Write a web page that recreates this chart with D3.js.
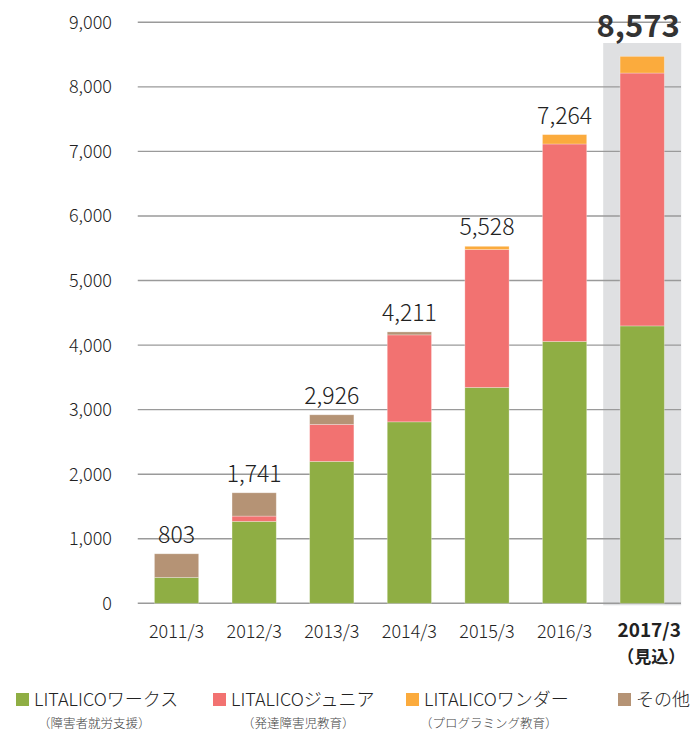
<!DOCTYPE html>
<html><head><meta charset="utf-8">
<script src="https://cdn.jsdelivr.net/npm/d3@7"></script>
<style>
body{margin:0;background:#fff;}
svg text{font-family:"Noto Sans CJK JP","Noto Sans",sans-serif;}
</style></head>
<body><svg id="c" width="690" height="731"></svg>
<script>
const years = ["2011/3","2012/3","2013/3","2014/3","2015/3","2016/3","2017/3"];
const works  = [400, 1269, 2198, 2811, 3344, 4056, 4297];
const junior = [0, 82, 573, 1347, 2136, 3059, 3917];
const wonder = [0, 0, 0, 0, 50, 145, 258];
const other  = [367, 361, 149, 46, 0, 0, 0];
const totalLabels = ["803","1,741","2,926","4,211","5,528","7,264","8,573"];
const yTicks = [0,1000,2000,3000,4000,5000,6000,7000,8000,9000];
const seriesKeys = ["works","junior","wonder","other"];
const seriesNames = ["LITALICOワークス","LITALICOジュニア","LITALICOワンダー","その他"];
const seriesSubs = ["（障害者就労支援）","（発達障害児教育）","（プログラミング教育）",""];
const forecastNote = "（見込）";
const colors = ["#8fae44","#f27271","#fbab3d","#b59375"];

const rows = years.map((y,i)=>({year:y, works:works[i], junior:junior[i], wonder:wonder[i], other:other[i]}));
const svg = d3.select("#c");
const x = d3.scaleBand().domain(years).range([137.75,681]).paddingInner(0.43).paddingOuter(0.215);
const y = d3.scaleLinear().domain([0,9000]).range([603.3,22.3]);
const lastIdx = years.length-1;
const last = years[lastIdx];

// highlight background for forecast year
svg.append("rect").attr("x", x(last)+x.bandwidth()/2-39).attr("width",78)
  .attr("y",43).attr("height",y(0)-43+2).attr("fill","#dfe0e2");

// gridlines
svg.append("g").selectAll("line").data(yTicks).join("line")
  .attr("x1",137.75).attr("x2",681).attr("y1",d=>y(d)).attr("y2",d=>y(d))
  .attr("stroke","#9a9a9a").attr("stroke-width",1.4);

// y labels
svg.append("g").selectAll("text").data(yTicks).join("text")
  .attr("x",112).attr("y",d=>y(d)+6.5).attr("text-anchor","end")
  .attr("font-size",18).attr("font-weight",300).attr("fill","#222").text(d=>d3.format(",")(d));

// stacked bars
const stack = d3.stack().keys(seriesKeys)(rows);
svg.append("g").selectAll("g").data(stack).join("g")
  .attr("fill",(d,i)=>colors[i])
  .selectAll("rect").data(d=>d.filter(s=>s[1]-s[0]>0)).join("rect")
  .attr("x",d=>x(d.data.year)).attr("width",x.bandwidth())
  .attr("y",d=>y(d[1])).attr("height",d=>y(d[0])-y(d[1]))
  .attr("stroke","rgba(255,255,255,0.35)").attr("stroke-width",0.8);

// total labels
const tops = rows.map(r=>r.works+r.junior+r.wonder+r.other);
svg.append("g").selectAll("text").data(years).join("text")
  .attr("x",(d,i)=>x(d)+x.bandwidth()/2 + (i===lastIdx?-4:0))
  .attr("y",(d,i)=>y(tops[i]) - (i===lastIdx?19:11))
  .attr("text-anchor","middle")
  .attr("font-size",(d,i)=>i===lastIdx?31:23)
  .attr("font-weight",(d,i)=>i===lastIdx?700:300)
  .attr("fill",(d,i)=>i===lastIdx?"#333":"#222")
  .text((d,i)=>totalLabels[i]);

// x labels
svg.append("g").selectAll("text").data(years.slice(0,lastIdx)).join("text")
  .attr("x",d=>x(d)+x.bandwidth()/2)
  .attr("y",637.5).attr("text-anchor","middle")
  .attr("font-size",18).attr("font-weight",300)
  .attr("fill","#222").text(d=>d);
svg.append("text").attr("x",x(last)+x.bandwidth()/2+7).attr("y",636.5)
  .attr("text-anchor","middle").attr("font-size",19).attr("font-weight",700)
  .attr("fill","#222").text(last);
svg.append("text").attr("x",x(last)+x.bandwidth()/2+9).attr("y",662.5)
  .attr("text-anchor","middle").attr("font-size",17).attr("font-weight",700)
  .attr("fill","#222").text(forecastNote);

// legend
const lgX = [16,213,406,618];
const subDx = [22,29,14,0];
const lg = svg.append("g").selectAll("g").data(seriesNames).join("g")
  .attr("transform",(d,i)=>`translate(${lgX[i]},0)`);
lg.append("rect").attr("x",0).attr("y",693).attr("width",13).attr("height",13)
  .attr("fill",(d,i)=>colors[i]);
lg.append("text").attr("x",18).attr("y",706).attr("font-size",18).attr("font-weight",300)
  .attr("fill","#222").text(d=>d);
lg.append("text").attr("x",(d,i)=>subDx[i]).attr("y",728).attr("font-size",12.5)
  .attr("font-weight",300).attr("fill","#444")
  .text((d,i)=>seriesSubs[i]);
</script></body></html>
